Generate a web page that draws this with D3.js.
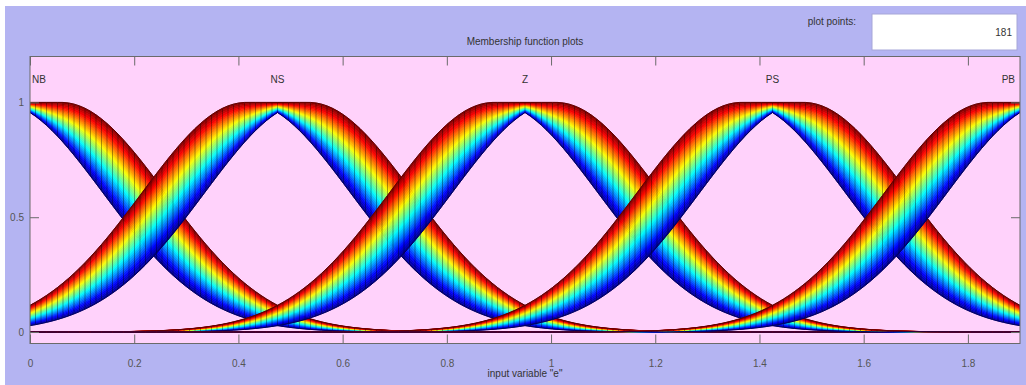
<!DOCTYPE html>
<html>
<head>
<meta charset="utf-8">
<script src="https://cdn.jsdelivr.net/npm/d3@7/dist/d3.min.js"></script>
<style>
  html, body { margin: 0; padding: 0; background: #ffffff; }
  svg { display: block; }
  text { font-family: "Liberation Sans", Arial, sans-serif; }
</style>
</head>
<body>
<svg id="chart" width="1026" height="385"></svg>
<script>
// Interval type-2 Gaussian membership functions (uncertain mean) for input "e"
const mfNames   = ["NB", "NS", "Z", "PS", "PB"];
const mfCenters = [0, 0.475, 0.95, 1.425, 1.9];
const mfSigma   = [0.2, 0.2, 0.2, 0.2, 0.2];
const mfSpread  = [0.06, 0.06, 0.06, 0.06, 0.06];   // half-width of the uncertain mean
const inputRange = [0, 1.9];
const plotPoints = 181;
const xTickValues = [0, 0.2, 0.4, 0.6, 0.8, 1, 1.2, 1.4, 1.6, 1.8];
const yTickValues = [0, 0.5, 1];

const W = 1026, H = 385;
const svg = d3.select("#chart");

const figBg = "#b4b4f2";
const axBg = "#ffd2fb";

// figure panel
svg.append("rect").attr("x", 5).attr("y", 6).attr("width", W - 5).attr("height", H - 6).attr("fill", figBg);

const x = d3.scaleLinear().domain(inputRange).range([30, 1020]);
const y = d3.scaleLinear().domain([-0.05, 1.2]).range([343.5, 56.5]);

const [px0, px1] = x.range();
const [py1, py0] = y.range();

// axes background
svg.append("rect").attr("x", px0).attr("y", py0).attr("width", px1 - px0).attr("height", py1 - py0).attr("fill", axBg);

svg.append("defs").append("clipPath").attr("id", "plotClip")
  .append("rect").attr("x", px0).attr("y", py0).attr("width", px1 - px0).attr("height", py1 - py0);

// sample points
const xs = d3.range(plotPoints).map(i => inputRange[0] + (inputRange[1] - inputRange[0]) * i / (plotPoints - 1));

const gauss = (v, c, s) => Math.exp(-((v - c) * (v - c)) / (2 * s * s));
function upperMF(v, i) {
  const c1 = mfCenters[i] - mfSpread[i], c2 = mfCenters[i] + mfSpread[i];
  if (v < c1) return gauss(v, c1, mfSigma[i]);
  if (v > c2) return gauss(v, c2, mfSigma[i]);
  return 1;
}
function lowerMF(v, i) {
  const c1 = mfCenters[i] - mfSpread[i], c2 = mfCenters[i] + mfSpread[i];
  return Math.min(gauss(v, c1, mfSigma[i]), gauss(v, c2, mfSigma[i]));
}

// jet colormap
function jet(t) {
  const cl = v => Math.max(0, Math.min(1, v));
  const r = cl(1.5 - Math.abs(4 * t - 3));
  const g = cl(1.5 - Math.abs(4 * t - 2));
  const b = cl(1.5 - Math.abs(4 * t - 1));
  return d3.rgb(r * 255, g * 255, b * 255).formatHex();
}

const plot = svg.append("g").attr("clip-path", "url(#plotClip)");

// zero reference line
plot.append("line")
  .attr("x1", px0).attr("x2", px1).attr("y1", y(0)).attr("y2", y(0))
  .attr("stroke", "#1a1a1a").attr("stroke-width", 1.4);

const levels = 30;
mfNames.forEach((name, i) => {
  const pts = xs.map(v => ({ x: v, lo: lowerMF(v, i), up: upperMF(v, i) }));
  const g = plot.append("g").attr("class", "mf-" + name);
  for (let k = 0; k < levels; k++) {
    const a = k / levels, b = (k + 1) / levels;
    const col = jet((k + 0.5) / levels);
    const area = d3.area()
      .x(d => x(d.x))
      .y0(d => y(d.lo + (d.up - d.lo) * a))
      .y1(d => y(d.lo + (d.up - d.lo) * b));
    g.append("path").datum(pts)
      .attr("d", area)
      .attr("fill", col)
      .attr("stroke", col)
      .attr("stroke-width", 0.6);
  }
  // vertical segment at every plot point
  g.selectAll("line.seg").data(pts).join("line")
    .attr("class", "seg")
    .attr("x1", d => x(d.x)).attr("x2", d => x(d.x))
    .attr("y1", d => y(d.lo)).attr("y2", d => y(d.up))
    .attr("stroke", "#000").attr("stroke-opacity", 0.35).attr("stroke-width", 1);
  // band edges
  g.append("path").datum(pts)
    .attr("d", d3.line().x(d => x(d.x)).y(d => y(d.up)))
    .attr("fill", "none").attr("stroke", "#600000").attr("stroke-width", 1);
  g.append("path").datum(pts)
    .attr("d", d3.line().x(d => x(d.x)).y(d => y(d.lo)))
    .attr("fill", "none").attr("stroke", "#000060").attr("stroke-width", 1);
});

// axes box and ticks
const tickCol = "#6a6a6a";
const tickLen = 9;
svg.append("rect").attr("x", px0).attr("y", py0).attr("width", px1 - px0).attr("height", py1 - py0)
  .attr("fill", "none").attr("stroke", tickCol).attr("stroke-width", 1);

const xb = svg.append("g").attr("transform", `translate(0,${py1})`)
  .call(d3.axisBottom(x).tickValues(xTickValues).tickSizeInner(-tickLen).tickSizeOuter(0).tickPadding(16).tickFormat(d3.format("")));
const xt = svg.append("g").attr("transform", `translate(0,${py0})`)
  .call(d3.axisTop(x).tickValues(xTickValues).tickSizeInner(-tickLen).tickSizeOuter(0).tickFormat(""));
const yl = svg.append("g").attr("transform", `translate(${px0},0)`)
  .call(d3.axisLeft(y).tickValues(yTickValues).tickSizeInner(-tickLen).tickSizeOuter(0).tickPadding(6).tickFormat(d3.format("")));
const yr = svg.append("g").attr("transform", `translate(${px1},0)`)
  .call(d3.axisRight(y).tickValues(yTickValues).tickSizeInner(-tickLen).tickSizeOuter(0).tickFormat(""));

[xb, xt, yl, yr].forEach(a => {
  a.select(".domain").remove();
  a.selectAll(".tick line").attr("stroke", tickCol);
  a.selectAll(".tick text").attr("fill", "#555").attr("font-size", 10)
    .attr("font-family", "Liberation Sans, Arial, sans-serif");
});

// membership function labels
mfNames.forEach((name, i) => {
  const last = i === mfNames.length - 1;
  svg.append("text")
    .attr("x", i === 0 ? px0 + 2 : last ? px1 - 5 : x(mfCenters[i]))
    .attr("y", y(1.1) + 4)
    .attr("text-anchor", i === 0 ? "start" : last ? "end" : "middle")
    .attr("font-size", 10).attr("fill", "#333")
    .text(name);
});

// titles
svg.append("text").attr("x", (px0 + px1) / 2).attr("y", 45)
  .attr("text-anchor", "middle").attr("font-size", 10).attr("fill", "#333")
  .text("Membership function plots");
svg.append("text").attr("x", (px0 + px1) / 2).attr("y", 377)
  .attr("text-anchor", "middle").attr("font-size", 10).attr("fill", "#333")
  .text('input variable "e"');

// plot points control
svg.append("text").attr("x", 856).attr("y", 25)
  .attr("text-anchor", "end").attr("font-size", 10).attr("fill", "#333")
  .text("plot points:");
svg.append("rect").attr("x", 872).attr("y", 14).attr("width", 145).attr("height", 36)
  .attr("fill", "#ffffff").attr("stroke", "#a6a6d8").attr("stroke-width", 1);
svg.append("text").attr("x", 1012).attr("y", 36)
  .attr("text-anchor", "end").attr("font-size", 10).attr("fill", "#333")
  .text(plotPoints);
</script>
</body>
</html>
